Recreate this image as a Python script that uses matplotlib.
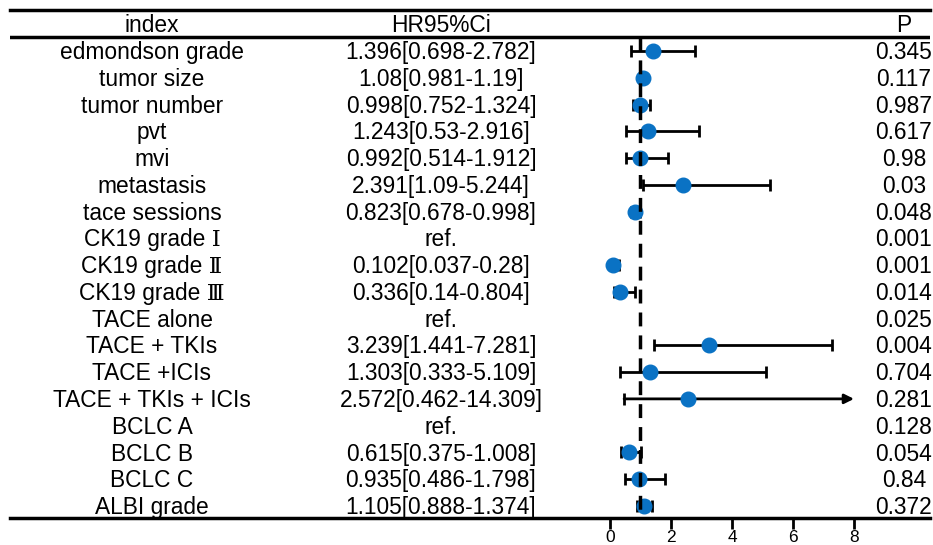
import numpy as np
import matplotlib
matplotlib.use("Agg")
import matplotlib.pyplot as plt
import matplotlib.transforms as mtransforms

labels = ["edmondson grade", "tumor size", "tumor number", "pvt", "mvi", "metastasis",
          "tace sessions", "CK19 grade \u2160", "CK19 grade \u2161", "CK19 grade \u2162",
          "TACE alone", "TACE + TKIs", "TACE +ICIs", "TACE + TKIs + ICIs",
          "BCLC A", "BCLC B", "BCLC C", "ALBI grade"]
hr = [1.396, 1.08, 0.998, 1.243, 0.992, 2.391, 0.823, np.nan, 0.102, 0.336,
      np.nan, 3.239, 1.303, 2.572, np.nan, 0.615, 0.935, 1.105]
lo = [0.698, 0.981, 0.752, 0.53, 0.514, 1.09, 0.678, np.nan, 0.037, 0.14,
      np.nan, 1.441, 0.333, 0.462, np.nan, 0.375, 0.486, 0.888]
hi = [2.782, 1.19, 1.324, 2.916, 1.912, 5.244, 0.998, np.nan, 0.28, 0.804,
      np.nan, 7.281, 5.109, 14.309, np.nan, 1.008, 1.798, 1.374]
hr_text = ["1.396[0.698-2.782]", "1.08[0.981-1.19]", "0.998[0.752-1.324]",
           "1.243[0.53-2.916]", "0.992[0.514-1.912]", "2.391[1.09-5.244]",
           "0.823[0.678-0.998]", "ref.", "0.102[0.037-0.28]", "0.336[0.14-0.804]",
           "ref.", "3.239[1.441-7.281]", "1.303[0.333-5.109]", "2.572[0.462-14.309]",
           "ref.", "0.615[0.375-1.008]", "0.935[0.486-1.798]", "1.105[0.888-1.374]"]
p_text = ["0.345", "0.117", "0.987", "0.617", "0.98", "0.03", "0.048", "0.001",
          "0.001", "0.014", "0.025", "0.004", "0.704", "0.281", "0.128", "0.054",
          "0.84", "0.372"]
headers = ["index", "HR95%Ci", "P"]
xticks = [0, 2, 4, 6, 8]
ref_line = 1.0
clip_max = 8.0

W, H = 933, 545
fig = plt.figure(figsize=(W / 100, H / 100), dpi=100)
FONT = ["Liberation Sans", "Liberation Serif", "DejaVu Serif", "DejaVu Sans"]
plt.rcParams['font.family'] = FONT

left_px, right_px, top_px, bot_px = 10, 930, 10, 518
ax = fig.add_axes([left_px / W, 1 - bot_px / H, (right_px - left_px) / W, (bot_px - top_px) / H])

zero_px, unit_px = 610, 30.5
ax.set_xlim((left_px - zero_px) / unit_px, (right_px - zero_px) / unit_px)
row0_px, row_step = 51, 26.76
ax.set_ylim((bot_px - row0_px) / row_step, (top_px - row0_px) / row_step)

n = len(labels)
ys = np.arange(n)
blue = "#0A72C4"

for i in range(n):
    if np.isnan(hr[i]):
        continue
    if hi[i] > clip_max:
        ax.annotate("", xy=(clip_max, ys[i]), xytext=(lo[i], ys[i]),
                    arrowprops=dict(arrowstyle="-|>", color="black", lw=2,
                                    mutation_scale=14, shrinkA=0, shrinkB=0), zorder=2)
        ax.plot([lo[i]], [ys[i]], marker="|", color="black", ms=8, mew=2, zorder=2)
    else:
        ax.errorbar(hr[i], ys[i], xerr=[[hr[i] - lo[i]], [hi[i] - hr[i]]],
                    fmt="none", ecolor="black", elinewidth=2, capsize=4, capthick=2, zorder=2)

ax.plot(hr, ys, "o", color=blue, ms=10.5, zorder=3, linestyle="none")

header_y = (37 - row0_px) / row_step
ax.plot([ref_line, ref_line], [header_y, ax.get_ylim()[0]], color="black", lw=2.5,
        linestyle=(0, (4.0, 2.6)), zorder=4)
ax.axhline(header_y, color="black", lw=2.5, zorder=5)

for s in ["left", "right"]:
    ax.spines[s].set_visible(False)
ax.spines["top"].set_linewidth(2.5)
ax.spines["bottom"].set_linewidth(2.5)
ax.set_yticks([])
ax.set_xticks(xticks)
ax.tick_params(axis="x", length=8, width=2, labelsize=12.5, pad=0.5)

trans = mtransforms.blended_transform_factory(fig.transFigure, ax.transData)
col_x = [152 / W, 441 / W, 904 / W]
fs = 16.4
dy = 0.06
for txt, cx in zip(headers, col_x):
    ax.text(cx, -1 + dy, txt, transform=trans, ha="center", va="center", fontsize=fs)
for i in range(n):
    ax.text(col_x[0], ys[i] + dy, labels[i], transform=trans, ha="center", va="center", fontsize=fs)
    ax.text(col_x[1], ys[i] + dy, hr_text[i], transform=trans, ha="center", va="center", fontsize=fs)
    ax.text(col_x[2], ys[i] + dy, p_text[i], transform=trans, ha="center", va="center", fontsize=fs)

fig.savefig("out.png", dpi=100)
